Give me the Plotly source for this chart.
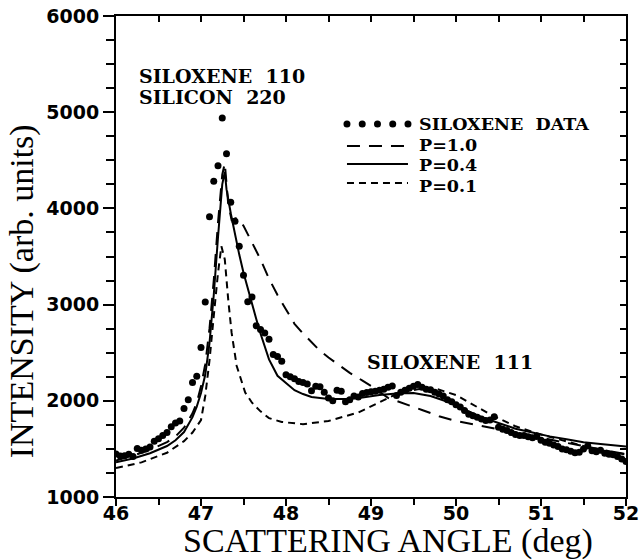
import plotly.graph_objects as go

# ---- measured data (siloxene) ----
angle = [46.00, 46.05, 46.10, 46.15, 46.20, 46.25, 46.30, 46.35, 46.40, 46.45,
         46.50, 46.55, 46.60, 46.65, 46.70, 46.75, 46.80, 46.85, 46.90, 46.95,
         47.00, 47.05, 47.10, 47.15, 47.20, 47.25, 47.30, 47.35, 47.40, 47.45,
         47.50, 47.55, 47.60, 47.65, 47.70, 47.75, 47.80, 47.85, 47.90, 47.95,
         48.00, 48.05, 48.10, 48.15, 48.20, 48.25, 48.30, 48.35, 48.40, 48.45,
         48.50, 48.55, 48.60, 48.65, 48.70, 48.75, 48.80, 48.85, 48.90, 48.95,
         49.00, 49.05, 49.10, 49.15, 49.20, 49.25, 49.30, 49.35, 49.40, 49.45,
         49.50, 49.55, 49.60, 49.65, 49.70, 49.75, 49.80, 49.85, 49.90, 49.95,
         50.00, 50.05, 50.10, 50.15, 50.20, 50.25, 50.30, 50.35, 50.40, 50.45,
         50.50, 50.55, 50.60, 50.65, 50.70, 50.75, 50.80, 50.85, 50.90, 50.95,
         51.00, 51.05, 51.10, 51.15, 51.20, 51.25, 51.30, 51.35, 51.40, 51.45,
         51.50, 51.55, 51.60, 51.65, 51.70, 51.75, 51.80, 51.85, 51.90, 51.95,
         52.00]
intensity = [1446, 1425, 1430, 1445, 1420, 1505, 1485, 1500, 1520, 1580,
             1605, 1640, 1670, 1730, 1770, 1790, 1920, 2010, 2190, 2255,
             2553, 3026, 3912, 4281, 4444, 4939, 4568, 4063, 3866, 3607,
             3305, 3030, 3080, 2780, 2740, 2705, 2640, 2480, 2460, 2410,
             2270, 2250, 2230, 2200, 2190, 2175, 2105, 2150, 2145, 2090,
             2030, 2000, 2110, 2100, 1990, 2010, 2050, 2040, 2075, 2085,
             2095, 2100, 2110, 2120, 2140, 2155, 2055, 2090, 2110, 2130,
             2150, 2170, 2140, 2120, 2115, 2090, 2070, 2050, 2010, 1990,
             1960, 1935, 1900, 1860, 1845, 1830, 1810, 1795, 1800, 1835,
             1725, 1705, 1690, 1670, 1650, 1640, 1640, 1625, 1615, 1630,
             1590, 1570, 1560, 1540, 1525, 1500, 1490, 1475, 1460, 1465,
             1500, 1530, 1480, 1470, 1485, 1455, 1445, 1440, 1420, 1395,
             1370]

# ---- model curves ----
p10_x = [46.0, 46.2, 46.4, 46.6, 46.7, 46.8, 46.9, 46.95, 47.0, 47.05, 47.1, 47.15,
         47.2, 47.25, 47.28, 47.32, 47.36, 47.42, 47.5, 47.6, 47.7, 47.8, 47.9,
         48.0, 48.1, 48.2, 48.3, 48.4, 48.5, 48.6, 48.75, 48.9, 49.0, 49.2, 49.4,
         49.6, 49.8, 50.0, 50.2, 50.5, 50.8, 51.2, 51.6, 52.0]
p10_y = [1380, 1430, 1490, 1570, 1630, 1720, 1870, 1980, 2150, 2380, 2750, 3250,
         3850, 4350, 4470, 4050, 3880, 3900, 3820, 3640, 3470, 3270, 3100,
         2950, 2800, 2700, 2605, 2520, 2450, 2385, 2290, 2210, 2155, 2030, 1970,
         1905, 1840, 1790, 1755, 1705, 1655, 1580, 1510, 1445]

p04_x = [46.0, 46.2, 46.4, 46.6, 46.7, 46.8, 46.9, 46.95, 47.0, 47.05, 47.1, 47.15,
         47.2, 47.25, 47.28, 47.3, 47.35, 47.4, 47.45, 47.5, 47.55, 47.6, 47.65,
         47.7, 47.8, 47.9, 48.0, 48.1, 48.2, 48.3, 48.5, 48.7, 48.9, 49.1, 49.3,
         49.5, 49.7, 49.9, 50.1, 50.3, 50.5, 50.7, 50.9, 51.1, 51.3, 51.5, 51.7,
         51.9, 52.0]
p04_y = [1360, 1400, 1455, 1530, 1590, 1675, 1830, 1940, 2080, 2270, 2600, 3100,
         3700, 4250, 4380, 4200, 3950, 3720, 3520, 3330, 3160, 3000, 2850,
         2700, 2430, 2260, 2180, 2110, 2070, 2040, 2020, 2020, 2035, 2060, 2075,
         2080, 2050, 1990, 1910, 1830, 1770, 1710, 1670, 1630, 1600, 1570, 1550,
         1535, 1525]

p01_x = [46.0, 46.3, 46.6, 46.8, 46.9, 47.0, 47.05, 47.1, 47.15, 47.2, 47.24, 47.28,
         47.32, 47.36, 47.42, 47.52, 47.6, 47.7, 47.8, 47.95, 48.2, 48.5, 48.85,
         49.1, 49.3, 49.55, 49.75, 50.0, 50.2, 50.4, 50.7, 51.0, 51.5, 51.85, 52.0]
p01_y = [1300, 1360, 1460, 1580, 1670, 1800, 2050, 2420, 2880, 3330, 3607, 3469,
         3054, 2708, 2362, 2086, 1980, 1890, 1820, 1780, 1757, 1790, 1878,
         1982, 2070, 2120, 2130, 2060, 1960, 1860, 1735, 1650, 1530, 1465, 1440]

x_ticks = [46, 47, 48, 49, 50, 51, 52]
y_ticks = [1000, 2000, 3000, 4000, 5000, 6000]

legend_labels = ["SILOXENE\u00a0\u00a0DATA", "P=1.0", "P=0.4", "P=0.1"]

BLACK = "black"
LONG_DASH = "13px,9px"
SHORT_DASH = "7px,5px"
tick_font = dict(family="DejaVu Sans", size=19, color=BLACK, weight="bold")
label_font = dict(family="DejaVu Serif", size=19, color=BLACK, weight="bold")
legend_font = dict(family="DejaVu Serif", size=17.5, color=BLACK, weight="bold")
title_font = dict(family="Liberation Serif", size=34, color=BLACK)

fig = go.Figure()
fig.add_trace(go.Scatter(x=angle, y=intensity, mode="markers",
                         marker=dict(color=BLACK, size=7), name=legend_labels[0]))
fig.add_trace(go.Scatter(x=p10_x, y=p10_y, mode="lines",
                         line=dict(color=BLACK, width=2, dash=LONG_DASH), name=legend_labels[1]))
fig.add_trace(go.Scatter(x=p04_x, y=p04_y, mode="lines",
                         line=dict(color=BLACK, width=2), name=legend_labels[2]))
fig.add_trace(go.Scatter(x=p01_x, y=p01_y, mode="lines",
                         line=dict(color=BLACK, width=2, dash=SHORT_DASH), name=legend_labels[3]))
# invisible trace to hold the mirrored (top/right) frame axes
fig.add_trace(go.Scatter(x=[None], y=[None], xaxis="x2", yaxis="y2",
                         showlegend=False, hoverinfo="skip"))

fig.update_layout(
    width=639, height=560,
    margin=dict(l=116, r=13, t=16, b=63, autoexpand=False),
    paper_bgcolor="white", plot_bgcolor="white",
    showlegend=False,
    xaxis=dict(range=[46, 52], tickvals=x_ticks, ticks="outside", ticklen=7, tickwidth=2,
               tickcolor=BLACK, showline=True, linewidth=2, linecolor=BLACK,
               showgrid=False, zeroline=False, tickfont=tick_font, automargin=False,
               ticklabeloverflow="allow", ticklabelstandoff=-9,
               minor=dict(dtick=0.5, tick0=46, ticks="outside", ticklen=6, tickwidth=1.5,
                          tickcolor=BLACK, showgrid=False)),
    yaxis=dict(range=[1000, 6000], tickvals=y_ticks, ticks="outside", ticklen=11, tickwidth=2,
               tickcolor=BLACK, showline=True, linewidth=2, linecolor=BLACK,
               showgrid=False, zeroline=False, tickfont=tick_font, automargin=False,
               ticklabeloverflow="allow",
               minor=dict(dtick=250, tick0=1000, ticks="outside", ticklen=8, tickwidth=1.5,
                          tickcolor=BLACK, showgrid=False)),
    xaxis2=dict(range=[46, 52], overlaying="x", side="top", anchor="y", dtick=0.5, tick0=46,
                ticks="inside", ticklen=6, tickwidth=1.5, tickcolor=BLACK,
                showline=True, linewidth=2, linecolor=BLACK, showticklabels=False,
                showgrid=False, zeroline=False, automargin=False),
    yaxis2=dict(range=[1000, 6000], overlaying="y", side="right", anchor="x", dtick=250, tick0=1000,
                ticks="inside", ticklen=6, tickwidth=1.5, tickcolor=BLACK,
                showline=True, linewidth=2, linecolor=BLACK, showticklabels=False,
                showgrid=False, zeroline=False, automargin=False),
)

# axis titles
fig.add_annotation(text="SCATTERING ANGLE (deg)", xref="paper", yref="paper",
                   x=0.533, y=-0.092, xanchor="center", yanchor="middle",
                   showarrow=False, font=title_font)
fig.add_annotation(text="INTENSITY (arb. units)", xref="paper", yref="paper",
                   x=-0.185, y=0.427, xanchor="center", yanchor="middle", textangle=-90,
                   showarrow=False, font=title_font)

# peak labels
fig.add_annotation(text="SILOXENE\u00a0\u00a0110", x=46.25, y=5375, xanchor="left", yanchor="middle",
                   showarrow=False, font=label_font)
fig.add_annotation(text="SILICON\u00a0\u00a0220", x=46.25, y=5157, xanchor="left", yanchor="middle",
                   showarrow=False, font=label_font)
fig.add_annotation(text="SILOXENE\u00a0\u00a0111", x=48.93, y=2405, xanchor="left", yanchor="middle",
                   showarrow=False, font=label_font)

# hand-drawn style legend
leg_x0, leg_x1 = 0.4529, 0.5725
leg_rows = [0.7755, 0.7297, 0.6923, 0.6528]
text_rows = [0.7755, 0.7328, 0.6902, 0.6476]
for i in range(5):
    cx = leg_x0 + (leg_x1 - leg_x0) * i / 4
    fig.add_shape(type="circle", xref="paper", yref="paper", xsizemode="pixel", ysizemode="pixel",
                  xanchor=cx, yanchor=leg_rows[0], x0=-3.5, x1=3.5, y0=-3.5, y1=3.5,
                  fillcolor=BLACK, line=dict(color=BLACK, width=0))
for row, dash in zip(leg_rows[1:], [LONG_DASH, "solid", SHORT_DASH]):
    fig.add_shape(type="line", xref="paper", yref="paper", x0=leg_x0, x1=leg_x1, y0=row, y1=row,
                  line=dict(color=BLACK, width=2, dash=dash))
for row, lab in zip(text_rows, legend_labels):
    fig.add_annotation(text=lab, xref="paper", yref="paper", x=0.590, y=row,
                       xanchor="left", yanchor="middle", showarrow=False, font=legend_font)

fig.write_html("out.html")
